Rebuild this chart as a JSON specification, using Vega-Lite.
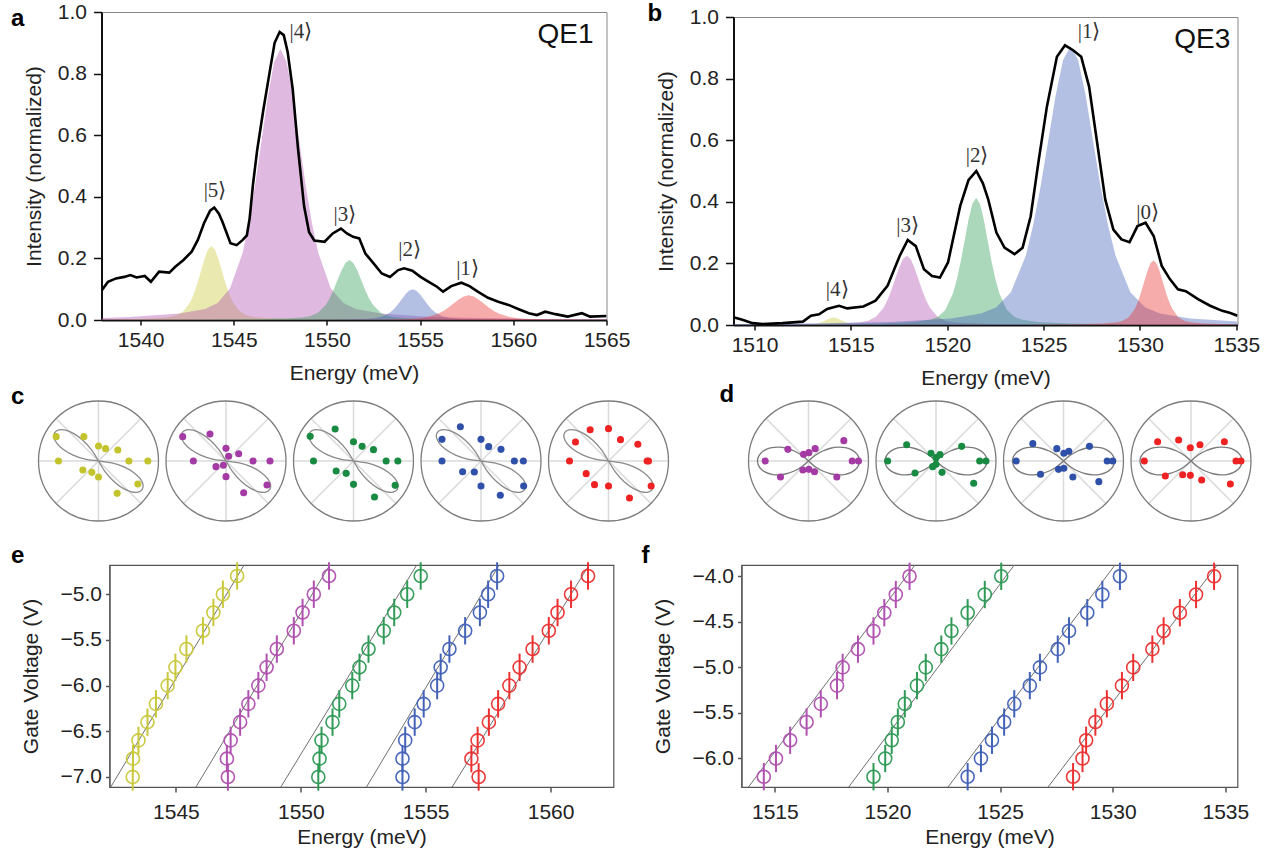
{
"$schema":"https://vega.github.io/schema/vega-lite/v6.json",
"background":"white",
"padding":{"left":9.5,"top":0,"right":0,"bottom":0},
"config":{
 "font":"Liberation Sans",
 "view":{"stroke":null},
 "axis":{"labelFont":"Liberation Sans","labelFontSize":21,"labelColor":"#222","titleFont":"Liberation Sans","titleFontSize":21,"titleFontWeight":"normal","titleColor":"#222","grid":false,"domainColor":"#111","domainWidth":2,"tickColor":"#111","tickWidth":1.5,"tickSize":6,"labelPadding":5,"labelFlush":false,"labelOverlap":false,"labelBound":false},
 "title":{"font":"Liberation Sans","fontSize":24,"fontWeight":"bold","anchor":"start","frame":"group","baseline":"alphabetic","offset":0,"color":"#000"},
 "text":{"font":"Liberation Sans"}
},
"datasets":{
 "specA":[{"e":1537.92,"i":0.097},{"e":1538.25,"i":0.124},{"e":1538.68,"i":0.135},{"e":1539.12,"i":0.14},{"e":1539.45,"i":0.146},{"e":1539.78,"i":0.138},{"e":1540.22,"i":0.143},{"e":1540.55,"i":0.124},{"e":1540.99,"i":0.157},{"e":1541.54,"i":0.154},{"e":1541.86,"i":0.173},{"e":1542.3,"i":0.195},{"e":1542.74,"i":0.222},{"e":1543.07,"i":0.26},{"e":1543.4,"i":0.314},{"e":1543.73,"i":0.355},{"e":1543.95,"i":0.365},{"e":1544.2,"i":0.345},{"e":1544.39,"i":0.319},{"e":1544.82,"i":0.249},{"e":1545.15,"i":0.243},{"e":1545.48,"i":0.26},{"e":1545.7,"i":0.275},{"e":1545.85,"i":0.33},{"e":1546.03,"i":0.44},{"e":1546.25,"i":0.55},{"e":1546.58,"i":0.68},{"e":1546.91,"i":0.8},{"e":1547.19,"i":0.9},{"e":1547.46,"i":0.935},{"e":1547.68,"i":0.925},{"e":1547.89,"i":0.87},{"e":1548.16,"i":0.75},{"e":1548.44,"i":0.56},{"e":1548.77,"i":0.37},{"e":1549.04,"i":0.285},{"e":1549.32,"i":0.258},{"e":1549.87,"i":0.254},{"e":1550.31,"i":0.281},{"e":1550.75,"i":0.297},{"e":1551.07,"i":0.281},{"e":1551.4,"i":0.27},{"e":1551.73,"i":0.265},{"e":1552.06,"i":0.216},{"e":1552.5,"i":0.184},{"e":1552.94,"i":0.151},{"e":1553.38,"i":0.14},{"e":1553.82,"i":0.162},{"e":1554.14,"i":0.168},{"e":1554.58,"i":0.16},{"e":1555.02,"i":0.14},{"e":1555.46,"i":0.124},{"e":1555.9,"i":0.108},{"e":1556.23,"i":0.092},{"e":1556.67,"i":0.11},{"e":1557.21,"i":0.121},{"e":1557.65,"i":0.11},{"e":1558.09,"i":0.092},{"e":1558.64,"i":0.072},{"e":1559.19,"i":0.059},{"e":1559.74,"i":0.049},{"e":1560.29,"i":0.035},{"e":1560.83,"i":0.022},{"e":1561.27,"i":0.016},{"e":1561.71,"i":0.027},{"e":1562.26,"i":0.019},{"e":1562.92,"i":0.011},{"e":1563.68,"i":0.022},{"e":1564.12,"i":0.011},{"e":1565,"i":0.013}],
 "fitA":[
  {"p":"y","e":1537.9,"i":0.0015},{"p":"y","e":1539.3,"i":0.0026},{"p":"y","e":1540.8,"i":0.0056},{"p":"y","e":1541.55,"i":0.0098},{"p":"y","e":1541.93,"i":0.0151},{"p":"y","e":1542.3,"i":0.0282},{"p":"y","e":1542.68,"i":0.0598},{"p":"y","e":1542.86,"i":0.0862},{"p":"y","e":1543.05,"i":0.12},{"p":"y","e":1543.24,"i":0.1589},{"p":"y","e":1543.43,"i":0.198},{"p":"y","e":1543.61,"i":0.2282},{"p":"y","e":1543.8,"i":0.24},{"p":"y","e":1543.99,"i":0.2282},{"p":"y","e":1544.18,"i":0.198},{"p":"y","e":1544.36,"i":0.1589},{"p":"y","e":1544.55,"i":0.12},{"p":"y","e":1544.74,"i":0.0862},{"p":"y","e":1544.93,"i":0.0598},{"p":"y","e":1545.3,"i":0.0282},{"p":"y","e":1545.68,"i":0.0151},{"p":"y","e":1546.05,"i":0.0098},{"p":"y","e":1546.8,"i":0.0056},{"p":"y","e":1548.3,"i":0.0026},{"p":"y","e":1551.3,"i":0.001},{"p":"y","e":1555.8,"i":0.0004},{"p":"y","e":1565,"i":0.0002},
  {"p":"m","e":1537.9,"i":0.0068},{"p":"m","e":1539.4,"i":0.0095},{"p":"m","e":1542.1,"i":0.0207},{"p":"m","e":1543.45,"i":0.0361},{"p":"m","e":1544.13,"i":0.0554},{"p":"m","e":1544.8,"i":0.103},{"p":"m","e":1545.48,"i":0.219},{"p":"m","e":1545.81,"i":0.316},{"p":"m","e":1546.15,"i":0.44},{"p":"m","e":1546.49,"i":0.583},{"p":"m","e":1546.83,"i":0.726},{"p":"m","e":1547.16,"i":0.837},{"p":"m","e":1547.5,"i":0.88},{"p":"m","e":1547.84,"i":0.837},{"p":"m","e":1548.18,"i":0.726},{"p":"m","e":1548.51,"i":0.583},{"p":"m","e":1548.85,"i":0.44},{"p":"m","e":1549.19,"i":0.316},{"p":"m","e":1549.53,"i":0.219},{"p":"m","e":1550.2,"i":0.103},{"p":"m","e":1550.88,"i":0.0554},{"p":"m","e":1551.55,"i":0.0361},{"p":"m","e":1552.9,"i":0.0207},{"p":"m","e":1555.6,"i":0.0095},{"p":"m","e":1561,"i":0.0035},{"p":"m","e":1565,"i":0.0021},
  {"p":"g","e":1537.9,"i":0.0003},{"p":"g","e":1542.7,"i":0.0008},{"p":"g","e":1546.1,"i":0.0021},{"p":"g","e":1547.8,"i":0.0046},{"p":"g","e":1548.65,"i":0.008},{"p":"g","e":1549.08,"i":0.0123},{"p":"g","e":1549.5,"i":0.0229},{"p":"g","e":1549.93,"i":0.0486},{"p":"g","e":1550.14,"i":0.07},{"p":"g","e":1550.35,"i":0.0975},{"p":"g","e":1550.56,"i":0.1291},{"p":"g","e":1550.78,"i":0.1609},{"p":"g","e":1550.99,"i":0.1854},{"p":"g","e":1551.2,"i":0.195},{"p":"g","e":1551.41,"i":0.1854},{"p":"g","e":1551.63,"i":0.1609},{"p":"g","e":1551.84,"i":0.1291},{"p":"g","e":1552.05,"i":0.0975},{"p":"g","e":1552.26,"i":0.07},{"p":"g","e":1552.48,"i":0.0486},{"p":"g","e":1552.9,"i":0.0229},{"p":"g","e":1553.33,"i":0.0123},{"p":"g","e":1553.75,"i":0.008},{"p":"g","e":1554.6,"i":0.0046},{"p":"g","e":1556.3,"i":0.0021},{"p":"g","e":1559.7,"i":0.0008},{"p":"g","e":1565,"i":0.0003},
  {"p":"b","e":1537.9,"i":0.0001},{"p":"b","e":1546.6,"i":0.0004},{"p":"b","e":1549.8,"i":0.0011},{"p":"b","e":1551.4,"i":0.0024},{"p":"b","e":1552.2,"i":0.0041},{"p":"b","e":1552.6,"i":0.0063},{"p":"b","e":1553,"i":0.0118},{"p":"b","e":1553.4,"i":0.0249},{"p":"b","e":1553.6,"i":0.0359},{"p":"b","e":1553.8,"i":0.05},{"p":"b","e":1554,"i":0.0662},{"p":"b","e":1554.2,"i":0.0825},{"p":"b","e":1554.4,"i":0.0951},{"p":"b","e":1554.6,"i":0.1},{"p":"b","e":1554.8,"i":0.0951},{"p":"b","e":1555,"i":0.0825},{"p":"b","e":1555.2,"i":0.0662},{"p":"b","e":1555.4,"i":0.05},{"p":"b","e":1555.6,"i":0.0359},{"p":"b","e":1555.8,"i":0.0249},{"p":"b","e":1556.2,"i":0.0118},{"p":"b","e":1556.6,"i":0.0063},{"p":"b","e":1557,"i":0.0041},{"p":"b","e":1557.8,"i":0.0024},{"p":"b","e":1559.4,"i":0.0011},{"p":"b","e":1562.6,"i":0.0004},{"p":"b","e":1565,"i":0.0003},
  {"p":"r","e":1537.9,"i":0.0001},{"p":"r","e":1546.6,"i":0.0003},{"p":"r","e":1551,"i":0.0009},{"p":"r","e":1553.2,"i":0.0019},{"p":"r","e":1554.3,"i":0.0033},{"p":"r","e":1554.85,"i":0.005},{"p":"r","e":1555.4,"i":0.0094},{"p":"r","e":1555.95,"i":0.0199},{"p":"r","e":1556.23,"i":0.0287},{"p":"r","e":1556.5,"i":0.04},{"p":"r","e":1556.78,"i":0.053},{"p":"r","e":1557.05,"i":0.066},{"p":"r","e":1557.33,"i":0.0761},{"p":"r","e":1557.6,"i":0.08},{"p":"r","e":1557.88,"i":0.0761},{"p":"r","e":1558.15,"i":0.066},{"p":"r","e":1558.43,"i":0.053},{"p":"r","e":1558.7,"i":0.04},{"p":"r","e":1558.98,"i":0.0287},{"p":"r","e":1559.25,"i":0.0199},{"p":"r","e":1559.8,"i":0.0094},{"p":"r","e":1560.35,"i":0.005},{"p":"r","e":1560.9,"i":0.0033},{"p":"r","e":1562,"i":0.0019},{"p":"r","e":1564.2,"i":0.0009},{"p":"r","e":1565,"i":0.0007}
 ],
 "ketA":[{"t":"|5⟩","e":1543.99,"i":0.419},{"t":"|4⟩","e":1548.6,"i":0.935},{"t":"|3⟩","e":1550.96,"i":0.341},{"t":"|2⟩","e":1554.43,"i":0.227},{"t":"|1⟩","e":1557.54,"i":0.164}],
 "specB":[{"e":1508.91,"i":0.025},{"e":1509.37,"i":0.017},{"e":1509.9,"i":0.006},{"e":1510.42,"i":0.003},{"e":1511.46,"i":0.006},{"e":1512.51,"i":0.011},{"e":1512.93,"i":0.03},{"e":1513.35,"i":0.035},{"e":1513.77,"i":0.052},{"e":1514.1,"i":0.058},{"e":1514.39,"i":0.0625},{"e":1514.81,"i":0.054},{"e":1515.65,"i":0.06},{"e":1516.28,"i":0.079},{"e":1516.9,"i":0.127},{"e":1517.53,"i":0.224},{"e":1517.95,"i":0.276},{"e":1518.37,"i":0.256},{"e":1518.79,"i":0.181},{"e":1519.21,"i":0.159},{"e":1519.62,"i":0.154},{"e":1520.04,"i":0.203},{"e":1520.67,"i":0.386},{"e":1521.1,"i":0.47},{"e":1521.51,"i":0.5},{"e":1521.85,"i":0.46},{"e":1522.13,"i":0.407},{"e":1522.55,"i":0.3},{"e":1522.97,"i":0.251},{"e":1523.49,"i":0.23},{"e":1523.91,"i":0.251},{"e":1524.33,"i":0.353},{"e":1524.75,"i":0.537},{"e":1525.17,"i":0.709},{"e":1525.69,"i":0.871},{"e":1526.11,"i":0.908},{"e":1526.53,"i":0.892},{"e":1526.95,"i":0.871},{"e":1527.36,"i":0.774},{"e":1527.78,"i":0.591},{"e":1528.2,"i":0.407},{"e":1528.62,"i":0.31},{"e":1529.04,"i":0.278},{"e":1529.46,"i":0.269},{"e":1529.87,"i":0.321},{"e":1530.29,"i":0.332},{"e":1530.71,"i":0.289},{"e":1531.13,"i":0.192},{"e":1531.55,"i":0.149},{"e":1531.97,"i":0.116},{"e":1532.38,"i":0.11},{"e":1533.01,"i":0.084},{"e":1533.64,"i":0.0625},{"e":1534.27,"i":0.046},{"e":1534.69,"i":0.039},{"e":1535.06,"i":0.03}],
 "fitB":[
  {"p":"y","e":1508.9,"i":0.0001},{"p":"y","e":1511.1,"i":0.0003},{"p":"y","e":1512.1,"i":0.0006},{"p":"y","e":1512.6,"i":0.001},{"p":"y","e":1513.1,"i":0.0029},{"p":"y","e":1513.35,"i":0.0062},{"p":"y","e":1513.6,"i":0.0125},{"p":"y","e":1513.85,"i":0.0206},{"p":"y","e":1514.1,"i":0.025},{"p":"y","e":1514.35,"i":0.0206},{"p":"y","e":1514.6,"i":0.0125},{"p":"y","e":1514.85,"i":0.0062},{"p":"y","e":1515.1,"i":0.0029},{"p":"y","e":1515.6,"i":0.001},{"p":"y","e":1516.1,"i":0.0006},{"p":"y","e":1517.1,"i":0.0003},{"p":"y","e":1519.1,"i":0.0001},{"p":"y","e":1535.06,"i":0},
  {"p":"m","e":1508.9,"i":0.0007},{"p":"m","e":1509.9,"i":0.0009},{"p":"m","e":1513.1,"i":0.0024},{"p":"m","e":1514.7,"i":0.0053},{"p":"m","e":1515.5,"i":0.0092},{"p":"m","e":1515.9,"i":0.0142},{"p":"m","e":1516.3,"i":0.0264},{"p":"m","e":1516.7,"i":0.056},{"p":"m","e":1516.9,"i":0.0808},{"p":"m","e":1517.1,"i":0.1125},{"p":"m","e":1517.3,"i":0.149},{"p":"m","e":1517.5,"i":0.1856},{"p":"m","e":1517.7,"i":0.214},{"p":"m","e":1517.9,"i":0.225},{"p":"m","e":1518.1,"i":0.214},{"p":"m","e":1518.3,"i":0.1856},{"p":"m","e":1518.5,"i":0.149},{"p":"m","e":1518.7,"i":0.1125},{"p":"m","e":1518.9,"i":0.0808},{"p":"m","e":1519.1,"i":0.056},{"p":"m","e":1519.5,"i":0.0264},{"p":"m","e":1519.9,"i":0.0142},{"p":"m","e":1520.3,"i":0.0092},{"p":"m","e":1521.1,"i":0.0053},{"p":"m","e":1522.7,"i":0.0024},{"p":"m","e":1525.9,"i":0.0009},{"p":"m","e":1535.06,"i":0.0002},
  {"p":"g","e":1508.9,"i":0.0007},{"p":"g","e":1513.5,"i":0.0017},{"p":"g","e":1516.7,"i":0.0045},{"p":"g","e":1518.3,"i":0.0097},{"p":"g","e":1519.1,"i":0.0169},{"p":"g","e":1519.5,"i":0.026},{"p":"g","e":1519.9,"i":0.0485},{"p":"g","e":1520.3,"i":0.1028},{"p":"g","e":1520.5,"i":0.1483},{"p":"g","e":1520.7,"i":0.2065},{"p":"g","e":1520.9,"i":0.2734},{"p":"g","e":1521.1,"i":0.3407},{"p":"g","e":1521.3,"i":0.3928},{"p":"g","e":1521.5,"i":0.413},{"p":"g","e":1521.7,"i":0.3928},{"p":"g","e":1521.9,"i":0.3407},{"p":"g","e":1522.1,"i":0.2734},{"p":"g","e":1522.3,"i":0.2065},{"p":"g","e":1522.5,"i":0.1483},{"p":"g","e":1522.7,"i":0.1028},{"p":"g","e":1523.1,"i":0.0485},{"p":"g","e":1523.5,"i":0.026},{"p":"g","e":1523.9,"i":0.0169},{"p":"g","e":1524.7,"i":0.0097},{"p":"g","e":1526.3,"i":0.0045},{"p":"g","e":1529.5,"i":0.0017},{"p":"g","e":1535.06,"i":0.0006},
  {"p":"b","e":1508.9,"i":0.0028},{"p":"b","e":1510.9,"i":0.0036},{"p":"b","e":1517.1,"i":0.0098},{"p":"b","e":1520.2,"i":0.0213},{"p":"b","e":1521.75,"i":0.0371},{"p":"b","e":1522.53,"i":0.057},{"p":"b","e":1523.3,"i":0.1063},{"p":"b","e":1524.08,"i":0.2253},{"p":"b","e":1524.46,"i":0.3249},{"p":"b","e":1524.85,"i":0.4525},{"p":"b","e":1525.24,"i":0.5991},{"p":"b","e":1525.63,"i":0.7466},{"p":"b","e":1526.01,"i":0.8607},{"p":"b","e":1526.4,"i":0.905},{"p":"b","e":1526.79,"i":0.8607},{"p":"b","e":1527.18,"i":0.7466},{"p":"b","e":1527.56,"i":0.5991},{"p":"b","e":1527.95,"i":0.4525},{"p":"b","e":1528.34,"i":0.3249},{"p":"b","e":1528.73,"i":0.2253},{"p":"b","e":1529.5,"i":0.1063},{"p":"b","e":1530.28,"i":0.057},{"p":"b","e":1531.05,"i":0.0371},{"p":"b","e":1532.6,"i":0.0213},{"p":"b","e":1535.06,"i":0.0112},
  {"p":"r","e":1508.9,"i":0.0001},{"p":"r","e":1524.2,"i":0.0008},{"p":"r","e":1526.8,"i":0.0023},{"p":"r","e":1528.1,"i":0.0049},{"p":"r","e":1528.75,"i":0.0086},{"p":"r","e":1529.08,"i":0.0132},{"p":"r","e":1529.4,"i":0.0247},{"p":"r","e":1529.73,"i":0.0523},{"p":"r","e":1529.89,"i":0.0754},{"p":"r","e":1530.05,"i":0.105},{"p":"r","e":1530.21,"i":0.139},{"p":"r","e":1530.38,"i":0.1733},{"p":"r","e":1530.54,"i":0.1997},{"p":"r","e":1530.7,"i":0.21},{"p":"r","e":1530.86,"i":0.1997},{"p":"r","e":1531.03,"i":0.1733},{"p":"r","e":1531.19,"i":0.139},{"p":"r","e":1531.35,"i":0.105},{"p":"r","e":1531.51,"i":0.0754},{"p":"r","e":1531.68,"i":0.0523},{"p":"r","e":1532,"i":0.0247},{"p":"r","e":1532.33,"i":0.0132},{"p":"r","e":1532.65,"i":0.0086},{"p":"r","e":1533.3,"i":0.0049},{"p":"r","e":1534.6,"i":0.0023},{"p":"r","e":1535.06,"i":0.0018}
 ],
 "ketB":[{"t":"|4⟩","e":1514.29,"i":0.114},{"t":"|3⟩","e":1517.95,"i":0.321},{"t":"|2⟩","e":1521.55,"i":0.55},{"t":"|1⟩","e":1527.36,"i":0.951},{"t":"|0⟩","e":1530.4,"i":0.364}],
 "grid":[{"x":-1,"y":0,"x2":1,"y2":0},{"x":0,"y":-1,"x2":0,"y2":1},{"x":-0.7071,"y":-0.7071,"x2":0.7071,"y2":0.7071},{"x":-0.7071,"y":0.7071,"x2":0.7071,"y2":-0.7071}],
 "origin":[{"x":0,"y":0}],
 "lobe":[
  {"k":"c","o":0,"x":0,"y":0},{"k":"c","o":1,"x":-0.1194,"y":0.191},{"k":"c","o":2,"x":-0.2619,"y":0.3474},{"k":"c","o":3,"x":-0.4117,"y":0.4571},{"k":"c","o":4,"x":-0.5511,"y":0.5138},{"k":"c","o":5,"x":-0.6622,"y":0.5173},{"k":"c","o":6,"x":-0.7297,"y":0.4738},{"k":"c","o":7,"x":-0.742,"y":0.3945},{"k":"c","o":8,"x":-0.6935,"y":0.2944},{"k":"c","o":9,"x":-0.5851,"y":0.1901},{"k":"c","o":10,"x":-0.4239,"y":0.0978},{"k":"c","o":11,"x":-0.223,"y":0.0314},{"k":"c","o":12,"x":0,"y":0},{"k":"c","o":13,"x":0.223,"y":-0.0314},{"k":"c","o":14,"x":0.4239,"y":-0.0978},{"k":"c","o":15,"x":0.5851,"y":-0.1901},{"k":"c","o":16,"x":0.6935,"y":-0.2944},{"k":"c","o":17,"x":0.742,"y":-0.3945},{"k":"c","o":18,"x":0.7297,"y":-0.4738},{"k":"c","o":19,"x":0.6622,"y":-0.5173},{"k":"c","o":20,"x":0.5511,"y":-0.5138},{"k":"c","o":21,"x":0.4117,"y":-0.4571},{"k":"c","o":22,"x":0.2619,"y":-0.3474},{"k":"c","o":23,"x":0.1194,"y":-0.191},{"k":"c","o":24,"x":0,"y":0},
  {"k":"d","o":0,"x":0,"y":0},{"k":"d","o":1,"x":0.1131,"y":0.0949},{"k":"d","o":2,"x":0.2381,"y":0.1667},{"k":"d","o":3,"x":0.3681,"y":0.2125},{"k":"d","o":4,"x":0.4952,"y":0.2309},{"k":"d","o":5,"x":0.6118,"y":0.2227},{"k":"d","o":6,"x":0.711,"y":0.1905},{"k":"d","o":7,"x":0.7866,"y":0.1387},{"k":"d","o":8,"x":0.8339,"y":0.073},{"k":"d","o":9,"x":0.85,"y":0},{"k":"d","o":10,"x":0.8339,"y":-0.073},{"k":"d","o":11,"x":0.7866,"y":-0.1387},{"k":"d","o":12,"x":0.711,"y":-0.1905},{"k":"d","o":13,"x":0.6118,"y":-0.2227},{"k":"d","o":14,"x":0.4952,"y":-0.2309},{"k":"d","o":15,"x":0.3681,"y":-0.2125},{"k":"d","o":16,"x":0.2381,"y":-0.1667},{"k":"d","o":17,"x":0.1131,"y":-0.0949},{"k":"d","o":18,"x":0,"y":0},{"k":"d","o":19,"x":-0.1131,"y":0.0949},{"k":"d","o":20,"x":-0.2381,"y":0.1667},{"k":"d","o":21,"x":-0.3681,"y":0.2125},{"k":"d","o":22,"x":-0.4952,"y":0.2309},{"k":"d","o":23,"x":-0.6118,"y":0.2227},{"k":"d","o":24,"x":-0.711,"y":0.1905},{"k":"d","o":25,"x":-0.7866,"y":0.1387},{"k":"d","o":26,"x":-0.8339,"y":0.073},{"k":"d","o":27,"x":-0.85,"y":0},{"k":"d","o":28,"x":-0.8339,"y":-0.073},{"k":"d","o":29,"x":-0.7866,"y":-0.1387},{"k":"d","o":30,"x":-0.711,"y":-0.1905},{"k":"d","o":31,"x":-0.6118,"y":-0.2227},{"k":"d","o":32,"x":-0.4952,"y":-0.2309},{"k":"d","o":33,"x":-0.3681,"y":-0.2125},{"k":"d","o":34,"x":-0.2381,"y":-0.1667},{"k":"d","o":35,"x":-0.1131,"y":-0.0949},{"k":"d","o":36,"x":0,"y":0}
 ],
 "pol":[
  {"p":"c1","x":-0.706,"y":0.406},{"p":"c1","x":-0.244,"y":0.406},{"p":"c1","x":0,"y":0.25},{"p":"c1","x":0.117,"y":0.206},{"p":"c1","x":0.322,"y":0.183},{"p":"c1","x":-0.667,"y":0},{"p":"c1","x":0.506,"y":0},{"p":"c1","x":0.822,"y":0},{"p":"c1","x":-0.261,"y":-0.15},{"p":"c1","x":-0.111,"y":-0.189},{"p":"c1","x":0,"y":-0.267},{"p":"c1","x":0.656,"y":-0.383},{"p":"c1","x":0.311,"y":-0.539},
  {"p":"c2","x":-0.722,"y":0.406},{"p":"c2","x":-0.267,"y":0.45},{"p":"c2","x":0,"y":0.211},{"p":"c2","x":0.044,"y":0.078},{"p":"c2","x":0.211,"y":0.122},{"p":"c2","x":-0.544,"y":0},{"p":"c2","x":0.45,"y":0},{"p":"c2","x":0.733,"y":0},{"p":"c2","x":-0.167,"y":-0.094},{"p":"c2","x":-0.044,"y":-0.072},{"p":"c2","x":0,"y":-0.261},{"p":"c2","x":0.683,"y":-0.4},{"p":"c2","x":0.294,"y":-0.528},
  {"p":"c3","x":-0.722,"y":0.411},{"p":"c3","x":-0.306,"y":0.533},{"p":"c3","x":0,"y":0.322},{"p":"c3","x":0.144,"y":0.244},{"p":"c3","x":0.333,"y":0.189},{"p":"c3","x":-0.667,"y":0},{"p":"c3","x":0.544,"y":0},{"p":"c3","x":0.739,"y":0},{"p":"c3","x":-0.289,"y":-0.167},{"p":"c3","x":-0.122,"y":-0.206},{"p":"c3","x":0,"y":-0.389},{"p":"c3","x":0.694,"y":-0.406},{"p":"c3","x":0.35,"y":-0.6},
  {"p":"c4","x":-0.65,"y":0.361},{"p":"c4","x":-0.344,"y":0.572},{"p":"c4","x":0,"y":0.361},{"p":"c4","x":0.128,"y":0.239},{"p":"c4","x":0.333,"y":0.194},{"p":"c4","x":-0.65,"y":0},{"p":"c4","x":0.556,"y":0},{"p":"c4","x":0.706,"y":0},{"p":"c4","x":-0.306,"y":-0.178},{"p":"c4","x":-0.111,"y":-0.183},{"p":"c4","x":0,"y":-0.417},{"p":"c4","x":0.711,"y":-0.417},{"p":"c4","x":0.322,"y":-0.572},
  {"p":"c5","x":-0.55,"y":0.317},{"p":"c5","x":-0.306,"y":0.522},{"p":"c5","x":0,"y":0.539},{"p":"c5","x":0.2,"y":0.356},{"p":"c5","x":0.489,"y":0.278},{"p":"c5","x":-0.65,"y":0},{"p":"c5","x":0.644,"y":0},{"p":"c5","x":0.667,"y":0},{"p":"c5","x":-0.372,"y":-0.211},{"p":"c5","x":-0.233,"y":-0.394},{"p":"c5","x":0,"y":-0.417},{"p":"c5","x":0.711,"y":-0.417},{"p":"c5","x":0.35,"y":-0.617},
  {"p":"d1","x":0.589,"y":0.339},{"p":"d1","x":-0.344,"y":0.194},{"p":"d1","x":-0.083,"y":0.111},{"p":"d1","x":0.006,"y":0.139},{"p":"d1","x":0.111,"y":0.206},{"p":"d1","x":-0.722,"y":0},{"p":"d1","x":0.728,"y":0},{"p":"d1","x":0.833,"y":0},{"p":"d1","x":-0.094,"y":-0.15},{"p":"d1","x":0.006,"y":-0.139},{"p":"d1","x":0.1,"y":-0.178},{"p":"d1","x":-0.467,"y":-0.267},{"p":"d1","x":0.472,"y":-0.267},
  {"p":"d2","x":-0.489,"y":0.272},{"p":"d2","x":0.428,"y":0.244},{"p":"d2","x":-0.083,"y":0.128},{"p":"d2","x":0.067,"y":0.106},{"p":"d2","x":0,"y":0.056},{"p":"d2","x":-0.806,"y":0},{"p":"d2","x":0.728,"y":0},{"p":"d2","x":0.833,"y":0},{"p":"d2","x":0,"y":-0.056},{"p":"d2","x":-0.056,"y":-0.094},{"p":"d2","x":-0.35,"y":-0.2},{"p":"d2","x":0.1,"y":-0.189},{"p":"d2","x":0.628,"y":-0.372},
  {"p":"d3","x":-0.511,"y":0.289},{"p":"d3","x":0.433,"y":0.244},{"p":"d3","x":-0.111,"y":0.206},{"p":"d3","x":0.006,"y":0.128},{"p":"d3","x":0.089,"y":0.161},{"p":"d3","x":-0.789,"y":0},{"p":"d3","x":0.728,"y":0},{"p":"d3","x":0.822,"y":0},{"p":"d3","x":-0.083,"y":-0.139},{"p":"d3","x":0.006,"y":-0.122},{"p":"d3","x":-0.383,"y":-0.222},{"p":"d3","x":0.156,"y":-0.267},{"p":"d3","x":0.589,"y":-0.344},
  {"p":"d4","x":-0.556,"y":0.322},{"p":"d4","x":-0.206,"y":0.35},{"p":"d4","x":-0.011,"y":0.222},{"p":"d4","x":0.15,"y":0.272},{"p":"d4","x":0.556,"y":0.322},{"p":"d4","x":-0.778,"y":0},{"p":"d4","x":0.75,"y":0},{"p":"d4","x":0.833,"y":0},{"p":"d4","x":-0.428,"y":-0.25},{"p":"d4","x":-0.139,"y":-0.228},{"p":"d4","x":-0.011,"y":-0.239},{"p":"d4","x":0.178,"y":-0.317},{"p":"d4","x":0.656,"y":-0.383}
 ],
 "gateE":[
  {"s":"y","e":1543.27,"v":-7.0,"d":0.15},{"s":"y","e":1543.28,"v":-6.8,"d":0.15},{"s":"y","e":1543.5,"v":-6.6,"d":0.15},{"s":"y","e":1543.86,"v":-6.4,"d":0.15},{"s":"y","e":1544.2,"v":-6.2,"d":0.15},{"s":"y","e":1544.67,"v":-6.0,"d":0.15},{"s":"y","e":1544.98,"v":-5.8,"d":0.15},{"s":"y","e":1545.42,"v":-5.6,"d":0.15},{"s":"y","e":1546.08,"v":-5.4,"d":0.15},{"s":"y","e":1546.5,"v":-5.2,"d":0.15},{"s":"y","e":1546.88,"v":-5.0,"d":0.15},{"s":"y","e":1547.45,"v":-4.8,"d":0.15},
  {"s":"m","e":1547.08,"v":-7.0,"d":0.15},{"s":"m","e":1547.04,"v":-6.8,"d":0.15},{"s":"m","e":1547.19,"v":-6.6,"d":0.15},{"s":"m","e":1547.57,"v":-6.4,"d":0.15},{"s":"m","e":1547.9,"v":-6.2,"d":0.15},{"s":"m","e":1548.3,"v":-6.0,"d":0.15},{"s":"m","e":1548.63,"v":-5.8,"d":0.15},{"s":"m","e":1549.04,"v":-5.6,"d":0.15},{"s":"m","e":1549.72,"v":-5.4,"d":0.15},{"s":"m","e":1550.07,"v":-5.2,"d":0.15},{"s":"m","e":1550.52,"v":-5.0,"d":0.15},{"s":"m","e":1551.13,"v":-4.8,"d":0.15},
  {"s":"g","e":1550.7,"v":-7.0,"d":0.15},{"s":"g","e":1550.75,"v":-6.8,"d":0.15},{"s":"g","e":1550.83,"v":-6.6,"d":0.15},{"s":"g","e":1551.27,"v":-6.4,"d":0.15},{"s":"g","e":1551.54,"v":-6.2,"d":0.15},{"s":"g","e":1552.06,"v":-6.0,"d":0.15},{"s":"g","e":1552.35,"v":-5.8,"d":0.15},{"s":"g","e":1552.71,"v":-5.6,"d":0.15},{"s":"g","e":1553.32,"v":-5.4,"d":0.15},{"s":"g","e":1553.74,"v":-5.2,"d":0.15},{"s":"g","e":1554.26,"v":-5.0,"d":0.15},{"s":"g","e":1554.8,"v":-4.8,"d":0.15},
  {"s":"b","e":1554.07,"v":-7.0,"d":0.15},{"s":"b","e":1554.07,"v":-6.8,"d":0.15},{"s":"b","e":1554.18,"v":-6.6,"d":0.15},{"s":"b","e":1554.56,"v":-6.4,"d":0.15},{"s":"b","e":1554.92,"v":-6.2,"d":0.15},{"s":"b","e":1555.46,"v":-6.0,"d":0.15},{"s":"b","e":1555.6,"v":-5.8,"d":0.15},{"s":"b","e":1555.95,"v":-5.6,"d":0.15},{"s":"b","e":1556.58,"v":-5.4,"d":0.15},{"s":"b","e":1557.17,"v":-5.2,"d":0.15},{"s":"b","e":1557.5,"v":-5.0,"d":0.15},{"s":"b","e":1557.86,"v":-4.8,"d":0.15},
  {"s":"r","e":1557.12,"v":-7.0,"d":0.15},{"s":"r","e":1556.83,"v":-6.8,"d":0.15},{"s":"r","e":1557.08,"v":-6.6,"d":0.15},{"s":"r","e":1557.53,"v":-6.4,"d":0.15},{"s":"r","e":1557.9,"v":-6.2,"d":0.15},{"s":"r","e":1558.35,"v":-6.0,"d":0.15},{"s":"r","e":1558.76,"v":-5.8,"d":0.15},{"s":"r","e":1559.28,"v":-5.6,"d":0.15},{"s":"r","e":1559.93,"v":-5.4,"d":0.15},{"s":"r","e":1560.28,"v":-5.2,"d":0.15},{"s":"r","e":1560.82,"v":-5.0,"d":0.15},{"s":"r","e":1561.5,"v":-4.8,"d":0.15}
 ],
 "lineE":[{"s":"y","e":1542.39,"v":-7.11,"e2":1547.73,"v2":-4.68},{"s":"m","e":1545.8,"v":-7.11,"e2":1551.16,"v2":-4.68},{"s":"g","e":1549.2,"v":-7.11,"e2":1554.64,"v2":-4.68},{"s":"b","e":1552.63,"v":-7.11,"e2":1557.94,"v2":-4.68},{"s":"r","e":1556.06,"v":-7.11,"e2":1561.54,"v2":-4.68}],
 "gateF":[
  {"s":"m","e":1514.51,"v":-6.2,"d":0.15},{"s":"m","e":1515.05,"v":-6.0,"d":0.15},{"s":"m","e":1515.68,"v":-5.8,"d":0.15},{"s":"m","e":1516.41,"v":-5.6,"d":0.15},{"s":"m","e":1517.04,"v":-5.4,"d":0.15},{"s":"m","e":1517.76,"v":-5.2,"d":0.15},{"s":"m","e":1518.01,"v":-5.0,"d":0.15},{"s":"m","e":1518.69,"v":-4.8,"d":0.15},{"s":"m","e":1519.38,"v":-4.6,"d":0.15},{"s":"m","e":1519.86,"v":-4.4,"d":0.15},{"s":"m","e":1520.37,"v":-4.2,"d":0.15},{"s":"m","e":1520.98,"v":-4.0,"d":0.15},
  {"s":"g","e":1519.38,"v":-6.2,"d":0.15},{"s":"g","e":1519.9,"v":-6.0,"d":0.15},{"s":"g","e":1520.19,"v":-5.8,"d":0.15},{"s":"g","e":1520.46,"v":-5.6,"d":0.15},{"s":"g","e":1520.77,"v":-5.4,"d":0.15},{"s":"g","e":1521.31,"v":-5.2,"d":0.15},{"s":"g","e":1521.7,"v":-5.0,"d":0.15},{"s":"g","e":1522.39,"v":-4.8,"d":0.15},{"s":"g","e":1522.84,"v":-4.6,"d":0.15},{"s":"g","e":1523.56,"v":-4.4,"d":0.15},{"s":"g","e":1524.32,"v":-4.2,"d":0.15},{"s":"g","e":1525.05,"v":-4.0,"d":0.15},
  {"s":"b","e":1523.56,"v":-6.2,"d":0.15},{"s":"b","e":1524.15,"v":-6.0,"d":0.15},{"s":"b","e":1524.64,"v":-5.8,"d":0.15},{"s":"b","e":1525.18,"v":-5.6,"d":0.15},{"s":"b","e":1525.63,"v":-5.4,"d":0.15},{"s":"b","e":1526.32,"v":-5.2,"d":0.15},{"s":"b","e":1526.77,"v":-5.0,"d":0.15},{"s":"b","e":1527.56,"v":-4.8,"d":0.15},{"s":"b","e":1528.06,"v":-4.6,"d":0.15},{"s":"b","e":1528.87,"v":-4.4,"d":0.15},{"s":"b","e":1529.54,"v":-4.2,"d":0.15},{"s":"b","e":1530.32,"v":-4.0,"d":0.15},
  {"s":"r","e":1528.24,"v":-6.2,"d":0.15},{"s":"r","e":1528.66,"v":-6.0,"d":0.15},{"s":"r","e":1528.82,"v":-5.8,"d":0.15},{"s":"r","e":1529.23,"v":-5.6,"d":0.15},{"s":"r","e":1529.74,"v":-5.4,"d":0.15},{"s":"r","e":1530.41,"v":-5.2,"d":0.15},{"s":"r","e":1530.91,"v":-5.0,"d":0.15},{"s":"r","e":1531.76,"v":-4.8,"d":0.15},{"s":"r","e":1532.26,"v":-4.6,"d":0.15},{"s":"r","e":1532.98,"v":-4.4,"d":0.15},{"s":"r","e":1533.7,"v":-4.2,"d":0.15},{"s":"r","e":1534.5,"v":-4.0,"d":0.15}
 ],
 "lineF":[{"s":"m","e":1513.83,"v":-6.313,"e2":1521.22,"v2":-3.876},{"s":"g","e":1518.28,"v":-6.313,"e2":1525.63,"v2":-3.876},{"s":"b","e":1522.69,"v":-6.313,"e2":1530.1,"v2":-3.876},{"s":"r","e":1527.13,"v":-6.313,"e2":1534.64,"v2":-3.876}]
},
"bounds":"full","align":"each","spacing":-6,
"vconcat":[
 {"bounds":"flush","align":"each","spacing":0,"hconcat":[
  {"width":65,"height":1,"data":{"values":[{"z":0}]},"mark":{"type":"point","opacity":0},"encoding":{}},
  {"bounds":"flush","align":"each","spacing":127,"hconcat":[
   {"width":505,"height":308,"view":{"stroke":"#888","strokeWidth":1},
    "title":{"text":"a","dx":-90.5,"dy":33.5},
    "encoding":{
     "x":{"field":"e","type":"quantitative","scale":{"domain":[1537.9,1565],"nice":false,"zero":false},"axis":{"values":[1540,1545,1550,1555,1560,1565],"format":"d","title":"Energy (meV)","tickSize":5,"labelPadding":4,"titlePadding":12}},
     "y":{"field":"i","type":"quantitative","stack":null,"scale":{"domain":[0,1],"nice":false,"zero":false},"axis":{"values":[0,0.2,0.4,0.6,0.8,1],"format":".1f","title":"Intensity (normalized)","tickSize":8,"labelPadding":7,"titlePadding":13}}},
    "layer":[
     {"data":{"name":"fitA"},"mark":{"type":"area","opacity":0.4,"clip":true},"encoding":{"color":{"field":"p","type":"nominal","scale":{"domain":["y","m","g","b","r"],"range":["#c8c83a","#b050b0","#2e9a55","#4262b8","#ec3030"]},"legend":null}}},
     {"data":{"name":"specA"},"mark":{"type":"line","color":"#000","strokeWidth":2.6,"clip":true}},
     {"data":{"name":"ketA"},"mark":{"type":"text","font":"Liberation Serif","fontSize":21,"color":"#333","baseline":"middle"},"encoding":{"text":{"field":"t"}}},
     {"data":{"values":[{"t":"QE1","e":1564.3,"i":0.925}]},"mark":{"type":"text","align":"right","baseline":"middle","fontSize":28,"color":"#111"},"encoding":{"text":{"field":"t"}}}
    ]},
   {"bounds":"flush","align":"each","spacing":4,"vconcat":[
    {"width":505,"height":1,"data":{"values":[{"z":0}]},"mark":{"type":"point","opacity":0},"encoding":{}},
    {"width":504,"height":308,"view":{"stroke":"#888","strokeWidth":1},
     "title":{"text":"b","dx":-86,"dy":23.5},
     "encoding":{
      "x":{"field":"e","type":"quantitative","scale":{"domain":[1508.91,1535.06],"nice":false,"zero":false},"axis":{"values":[1510,1515,1520,1525,1530,1535],"format":"d","title":"Energy (meV)","tickSize":5,"labelPadding":4,"titlePadding":12}},
      "y":{"field":"i","type":"quantitative","stack":null,"scale":{"domain":[0,1],"nice":false,"zero":false},"axis":{"values":[0,0.2,0.4,0.6,0.8,1],"format":".1f","title":"Intensity (normalized)","tickSize":8,"labelPadding":7,"titlePadding":13}}},
     "layer":[
      {"data":{"name":"fitB"},"mark":{"type":"area","opacity":0.4,"clip":true},"encoding":{"color":{"field":"p","type":"nominal","scale":{"domain":["y","m","g","b","r"],"range":["#c8c83a","#b050b0","#2e9a55","#4262b8","#ec3030"]},"legend":null}}},
      {"data":{"name":"specB"},"mark":{"type":"line","color":"#000","strokeWidth":2.6,"clip":true}},
      {"data":{"name":"ketB"},"mark":{"type":"text","font":"Liberation Serif","fontSize":21,"color":"#333","baseline":"middle"},"encoding":{"text":{"field":"t"}}},
      {"data":{"values":[{"t":"QE3","e":1534.69,"i":0.925}]},"mark":{"type":"text","align":"right","baseline":"middle","fontSize":28,"color":"#111"},"encoding":{"text":{"field":"t"}}}
     ]}
   ]}
  ]}
 ]},
 {"bounds":"flush","align":"each","spacing":3.5,"hconcat":[
  {"width":124,"height":124,"title":{"text":"c","dx":-25.5,"dy":15},
   "encoding":{"x":{"field":"x","type":"quantitative","scale":{"domain":[-1.0333,1.0333],"nice":false,"zero":false},"axis":null},"y":{"field":"y","type":"quantitative","scale":{"domain":[-1.0333,1.0333],"nice":false,"zero":false},"axis":null}},
   "layer":[
    {"data":{"name":"grid"},"mark":{"type":"rule","color":"#dadada","strokeWidth":1.5},"encoding":{"x2":{"field":"x2"},"y2":{"field":"y2"}}},
    {"data":{"name":"origin"},"mark":{"type":"point","size":14400,"color":"#7c7c7c","strokeWidth":1.3,"opacity":1}},
    {"data":{"name":"lobe"},"transform":[{"filter":"datum.k=='c'"}],"mark":{"type":"line","color":"#8a8a8a","strokeWidth":1.3,"interpolate":"catmull-rom"},"encoding":{"order":{"field":"o","type":"quantitative"}}},
    {"data":{"name":"pol"},"transform":[{"filter":"datum.p=='c1'"}],"mark":{"type":"circle","size":50,"color":"#c3c32e","opacity":1}}
   ]},
  {"width":124,"height":124,
   "encoding":{"x":{"field":"x","type":"quantitative","scale":{"domain":[-1.0333,1.0333],"nice":false,"zero":false},"axis":null},"y":{"field":"y","type":"quantitative","scale":{"domain":[-1.0333,1.0333],"nice":false,"zero":false},"axis":null}},
   "layer":[
    {"data":{"name":"grid"},"mark":{"type":"rule","color":"#dadada","strokeWidth":1.5},"encoding":{"x2":{"field":"x2"},"y2":{"field":"y2"}}},
    {"data":{"name":"origin"},"mark":{"type":"point","size":14400,"color":"#7c7c7c","strokeWidth":1.3,"opacity":1}},
    {"data":{"name":"lobe"},"transform":[{"filter":"datum.k=='c'"}],"mark":{"type":"line","color":"#8a8a8a","strokeWidth":1.3,"interpolate":"catmull-rom"},"encoding":{"order":{"field":"o","type":"quantitative"}}},
    {"data":{"name":"pol"},"transform":[{"filter":"datum.p=='c2'"}],"mark":{"type":"circle","size":50,"color":"#a43aa4","opacity":1}}
   ]},
  {"width":124,"height":124,
   "encoding":{"x":{"field":"x","type":"quantitative","scale":{"domain":[-1.0333,1.0333],"nice":false,"zero":false},"axis":null},"y":{"field":"y","type":"quantitative","scale":{"domain":[-1.0333,1.0333],"nice":false,"zero":false},"axis":null}},
   "layer":[
    {"data":{"name":"grid"},"mark":{"type":"rule","color":"#dadada","strokeWidth":1.5},"encoding":{"x2":{"field":"x2"},"y2":{"field":"y2"}}},
    {"data":{"name":"origin"},"mark":{"type":"point","size":14400,"color":"#7c7c7c","strokeWidth":1.3,"opacity":1}},
    {"data":{"name":"lobe"},"transform":[{"filter":"datum.k=='c'"}],"mark":{"type":"line","color":"#8a8a8a","strokeWidth":1.3,"interpolate":"catmull-rom"},"encoding":{"order":{"field":"o","type":"quantitative"}}},
    {"data":{"name":"pol"},"transform":[{"filter":"datum.p=='c3'"}],"mark":{"type":"circle","size":50,"color":"#188a42","opacity":1}}
   ]},
  {"width":124,"height":124,
   "encoding":{"x":{"field":"x","type":"quantitative","scale":{"domain":[-1.0333,1.0333],"nice":false,"zero":false},"axis":null},"y":{"field":"y","type":"quantitative","scale":{"domain":[-1.0333,1.0333],"nice":false,"zero":false},"axis":null}},
   "layer":[
    {"data":{"name":"grid"},"mark":{"type":"rule","color":"#dadada","strokeWidth":1.5},"encoding":{"x2":{"field":"x2"},"y2":{"field":"y2"}}},
    {"data":{"name":"origin"},"mark":{"type":"point","size":14400,"color":"#7c7c7c","strokeWidth":1.3,"opacity":1}},
    {"data":{"name":"lobe"},"transform":[{"filter":"datum.k=='c'"}],"mark":{"type":"line","color":"#8a8a8a","strokeWidth":1.3,"interpolate":"catmull-rom"},"encoding":{"order":{"field":"o","type":"quantitative"}}},
    {"data":{"name":"pol"},"transform":[{"filter":"datum.p=='c4'"}],"mark":{"type":"circle","size":50,"color":"#2f50a8","opacity":1}}
   ]},
  {"width":124,"height":124,
   "encoding":{"x":{"field":"x","type":"quantitative","scale":{"domain":[-1.0333,1.0333],"nice":false,"zero":false},"axis":null},"y":{"field":"y","type":"quantitative","scale":{"domain":[-1.0333,1.0333],"nice":false,"zero":false},"axis":null}},
   "layer":[
    {"data":{"name":"grid"},"mark":{"type":"rule","color":"#dadada","strokeWidth":1.5},"encoding":{"x2":{"field":"x2"},"y2":{"field":"y2"}}},
    {"data":{"name":"origin"},"mark":{"type":"point","size":14400,"color":"#7c7c7c","strokeWidth":1.3,"opacity":1}},
    {"data":{"name":"lobe"},"transform":[{"filter":"datum.k=='c'"}],"mark":{"type":"line","color":"#8a8a8a","strokeWidth":1.3,"interpolate":"catmull-rom"},"encoding":{"order":{"field":"o","type":"quantitative"}}},
    {"data":{"name":"pol"},"transform":[{"filter":"datum.p=='c5'"}],"mark":{"type":"circle","size":50,"color":"#ee2222","opacity":1}}
   ]},
  {"width":69,"height":1,"data":{"values":[{"z":0}]},"mark":{"type":"point","opacity":0},"encoding":{}},
  {"width":124,"height":124,"title":{"text":"d","dx":-27,"dy":13},
   "encoding":{"x":{"field":"x","type":"quantitative","scale":{"domain":[-1.0333,1.0333],"nice":false,"zero":false},"axis":null},"y":{"field":"y","type":"quantitative","scale":{"domain":[-1.0333,1.0333],"nice":false,"zero":false},"axis":null}},
   "layer":[
    {"data":{"name":"grid"},"mark":{"type":"rule","color":"#dadada","strokeWidth":1.5},"encoding":{"x2":{"field":"x2"},"y2":{"field":"y2"}}},
    {"data":{"name":"origin"},"mark":{"type":"point","size":14400,"color":"#7c7c7c","strokeWidth":1.3,"opacity":1}},
    {"data":{"name":"lobe"},"transform":[{"filter":"datum.k=='d'"}],"mark":{"type":"line","color":"#7a7a7a","strokeWidth":1.3,"interpolate":"catmull-rom"},"encoding":{"order":{"field":"o","type":"quantitative"}}},
    {"data":{"name":"pol"},"transform":[{"filter":"datum.p=='d1'"}],"mark":{"type":"circle","size":50,"color":"#a43aa4","opacity":1}}
   ]},
  {"width":124,"height":124,
   "encoding":{"x":{"field":"x","type":"quantitative","scale":{"domain":[-1.0333,1.0333],"nice":false,"zero":false},"axis":null},"y":{"field":"y","type":"quantitative","scale":{"domain":[-1.0333,1.0333],"nice":false,"zero":false},"axis":null}},
   "layer":[
    {"data":{"name":"grid"},"mark":{"type":"rule","color":"#dadada","strokeWidth":1.5},"encoding":{"x2":{"field":"x2"},"y2":{"field":"y2"}}},
    {"data":{"name":"origin"},"mark":{"type":"point","size":14400,"color":"#7c7c7c","strokeWidth":1.3,"opacity":1}},
    {"data":{"name":"lobe"},"transform":[{"filter":"datum.k=='d'"}],"mark":{"type":"line","color":"#7a7a7a","strokeWidth":1.3,"interpolate":"catmull-rom"},"encoding":{"order":{"field":"o","type":"quantitative"}}},
    {"data":{"name":"pol"},"transform":[{"filter":"datum.p=='d2'"}],"mark":{"type":"circle","size":50,"color":"#188a42","opacity":1}}
   ]},
  {"width":124,"height":124,
   "encoding":{"x":{"field":"x","type":"quantitative","scale":{"domain":[-1.0333,1.0333],"nice":false,"zero":false},"axis":null},"y":{"field":"y","type":"quantitative","scale":{"domain":[-1.0333,1.0333],"nice":false,"zero":false},"axis":null}},
   "layer":[
    {"data":{"name":"grid"},"mark":{"type":"rule","color":"#dadada","strokeWidth":1.5},"encoding":{"x2":{"field":"x2"},"y2":{"field":"y2"}}},
    {"data":{"name":"origin"},"mark":{"type":"point","size":14400,"color":"#7c7c7c","strokeWidth":1.3,"opacity":1}},
    {"data":{"name":"lobe"},"transform":[{"filter":"datum.k=='d'"}],"mark":{"type":"line","color":"#7a7a7a","strokeWidth":1.3,"interpolate":"catmull-rom"},"encoding":{"order":{"field":"o","type":"quantitative"}}},
    {"data":{"name":"pol"},"transform":[{"filter":"datum.p=='d3'"}],"mark":{"type":"circle","size":50,"color":"#2f50a8","opacity":1}}
   ]},
  {"width":124,"height":124,
   "encoding":{"x":{"field":"x","type":"quantitative","scale":{"domain":[-1.0333,1.0333],"nice":false,"zero":false},"axis":null},"y":{"field":"y","type":"quantitative","scale":{"domain":[-1.0333,1.0333],"nice":false,"zero":false},"axis":null}},
   "layer":[
    {"data":{"name":"grid"},"mark":{"type":"rule","color":"#dadada","strokeWidth":1.5},"encoding":{"x2":{"field":"x2"},"y2":{"field":"y2"}}},
    {"data":{"name":"origin"},"mark":{"type":"point","size":14400,"color":"#7c7c7c","strokeWidth":1.3,"opacity":1}},
    {"data":{"name":"lobe"},"transform":[{"filter":"datum.k=='d'"}],"mark":{"type":"line","color":"#7a7a7a","strokeWidth":1.3,"interpolate":"catmull-rom"},"encoding":{"order":{"field":"o","type":"quantitative"}}},
    {"data":{"name":"pol"},"transform":[{"filter":"datum.p=='d4'"}],"mark":{"type":"circle","size":50,"color":"#ee2222","opacity":1}}
   ]}
 ]},
 {"width":1,"height":24.5,"data":{"values":[{"z":0}]},"mark":{"type":"point","opacity":0},"encoding":{}},
 {"bounds":"flush","align":"each","spacing":0,"hconcat":[
  {"width":73,"height":1,"data":{"values":[{"z":0}]},"mark":{"type":"point","opacity":0},"encoding":{}},
  {"bounds":"flush","align":"each","spacing":128,"hconcat":[
   {"width":504,"height":222,"view":{"stroke":"#555","strokeWidth":1.2},
    "title":{"text":"e","dx":-98.5,"dy":11},
    "encoding":{
     "x":{"field":"e","type":"quantitative","scale":{"domain":[1542.34,1562.52],"nice":false,"zero":false},"axis":{"values":[1545,1550,1555,1560],"format":"d","title":"Energy (meV)","titlePadding":4,"domainColor":"#555","domainWidth":1.2,"tickColor":"#555","tickSize":5,"labelPadding":9}},
     "y":{"field":"v","type":"quantitative","scale":{"domain":[-7.11,-4.68],"nice":false,"zero":false},"axis":{"values":[-7,-6.5,-6,-5.5,-5],"format":".1f","title":"Gate Voltage (V)","titlePadding":19,"domainColor":"#555","domainWidth":1.2,"tickColor":"#555","tickSize":4,"labelPadding":4}}},
    "layer":[
     {"data":{"name":"lineE"},"mark":{"type":"rule","color":"#707070","strokeWidth":1,"clip":true},"encoding":{"x2":{"field":"e2"},"y2":{"field":"v2"}}},
     {"data":{"name":"gateE"},"mark":{"type":"errorbar","thickness":2},"encoding":{"yError":{"field":"d"},"color":{"field":"s","type":"nominal","scale":{"domain":["y","m","g","b","r"],"range":["#c8c83a","#b050b0","#2e9a55","#4262b8","#ec3030"]},"legend":null}}},
     {"data":{"name":"gateE"},"mark":{"type":"point","size":170,"strokeWidth":1.6,"filled":false,"opacity":0.95},"encoding":{"color":{"field":"s","type":"nominal","scale":{"domain":["y","m","g","b","r"],"range":["#c8c83a","#b050b0","#2e9a55","#4262b8","#ec3030"]},"legend":null}}}
    ]},
   {"width":496,"height":222,"view":{"stroke":"#555","strokeWidth":1.2},
    "title":{"text":"f","dx":-100,"dy":10},
    "encoding":{
     "x":{"field":"e","type":"quantitative","scale":{"domain":[1513.52,1535.54],"nice":false,"zero":false},"axis":{"values":[1515,1520,1525,1530,1535],"format":"d","title":"Energy (meV)","titlePadding":4,"domainColor":"#555","domainWidth":1.2,"tickColor":"#555","tickSize":5,"labelPadding":9}},
     "y":{"field":"v","type":"quantitative","scale":{"domain":[-6.313,-3.876],"nice":false,"zero":false},"axis":{"values":[-6,-5.5,-5,-4.5,-4],"format":".1f","title":"Gate Voltage (V)","titlePadding":19,"domainColor":"#555","domainWidth":1.2,"tickColor":"#555","tickSize":4,"labelPadding":4}}},
    "layer":[
     {"data":{"name":"lineF"},"mark":{"type":"rule","color":"#707070","strokeWidth":1,"clip":true},"encoding":{"x2":{"field":"e2"},"y2":{"field":"v2"}}},
     {"data":{"name":"gateF"},"mark":{"type":"errorbar","thickness":2},"encoding":{"yError":{"field":"d"},"color":{"field":"s","type":"nominal","scale":{"domain":["y","m","g","b","r"],"range":["#c8c83a","#b050b0","#2e9a55","#4262b8","#ec3030"]},"legend":null}}},
     {"data":{"name":"gateF"},"mark":{"type":"point","size":170,"strokeWidth":1.6,"filled":false,"opacity":0.95},"encoding":{"color":{"field":"s","type":"nominal","scale":{"domain":["y","m","g","b","r"],"range":["#c8c83a","#b050b0","#2e9a55","#4262b8","#ec3030"]},"legend":null}}}
    ]}
  ]}
 ]}
]
}
